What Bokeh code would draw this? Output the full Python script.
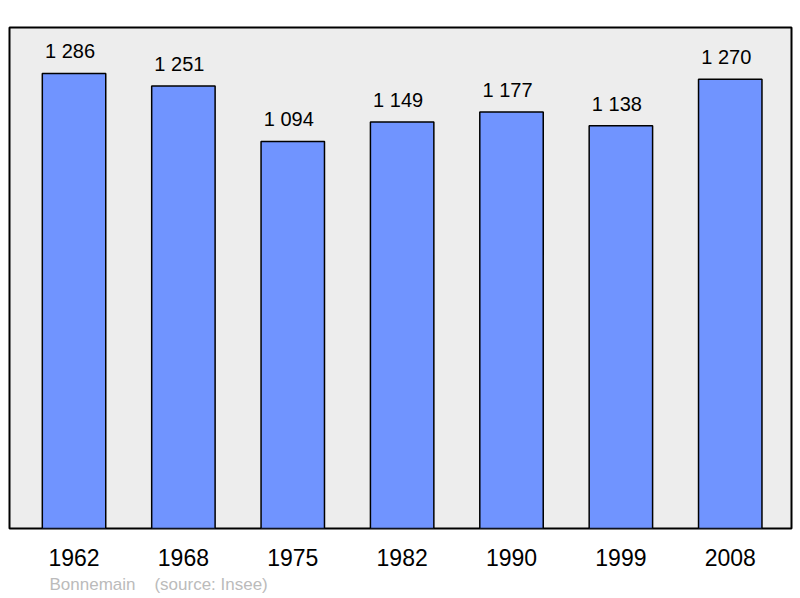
from bokeh.plotting import figure
from bokeh.models import ColumnDataSource, FixedTicker, Range1d, Title
from bokeh.core.properties import value
from bokeh.embed import file_html
from bokeh.resources import INLINE

years = ["1962", "1968", "1975", "1982", "1990", "1999", "2008"]
population = [1286, 1251, 1094, 1149, 1177, 1138, 1270]
labels = ["1 286", "1 251", "1 094", "1 149", "1 177", "1 138", "1 270"]
source_text = "Bonnemain\u00a0\u00a0\u00a0\u00a0(source: Insee)"

xs = list(range(len(years)))
src = ColumnDataSource(dict(x=xs, y=population, lab=labels))

p = figure(width=800, height=598, output_backend="svg", toolbar_location=None,
           x_range=Range1d(-0.59, 6.56), y_range=Range1d(0, 1416),
           min_border_left=9, min_border_right=9, min_border_top=27, min_border_bottom=70)
p.background_fill_color = "#ededed"
p.border_fill_color = "white"
p.outline_line_color = "black"
p.outline_line_width = 2
p.grid.visible = False
p.yaxis.visible = False

p.vbar(x="x", top="y", width=0.58, bottom=0, source=src,
       fill_color="#7094ff", line_color="black", line_width=1.5)
p.text(x="x", y="y", text="lab", source=src, text_align="center",
       text_baseline="alphabetic", x_offset=-4, y_offset=-22, text_font_size="20px",
       text_font=value("Liberation Sans"), text_color="black")

ax = p.xaxis[0]
ax.ticker = FixedTicker(ticks=xs)
ax.major_label_overrides = {i: y for i, y in enumerate(years)}
ax.axis_line_color = None
ax.major_tick_line_color = None
ax.minor_tick_line_color = None
ax.major_label_text_font_size = "23px"
ax.major_label_text_font = "Liberation Sans"
ax.major_label_text_color = "black"
ax.major_label_standoff = 14

t = Title(text=source_text, align="left", text_font_size="17px",
          text_font="Liberation Sans", text_color="#bbbbbb",
          text_font_style="normal", offset=40, standoff=8)
p.add_layout(t, "below")

open("out.html", "w").write(file_html(p, INLINE))
